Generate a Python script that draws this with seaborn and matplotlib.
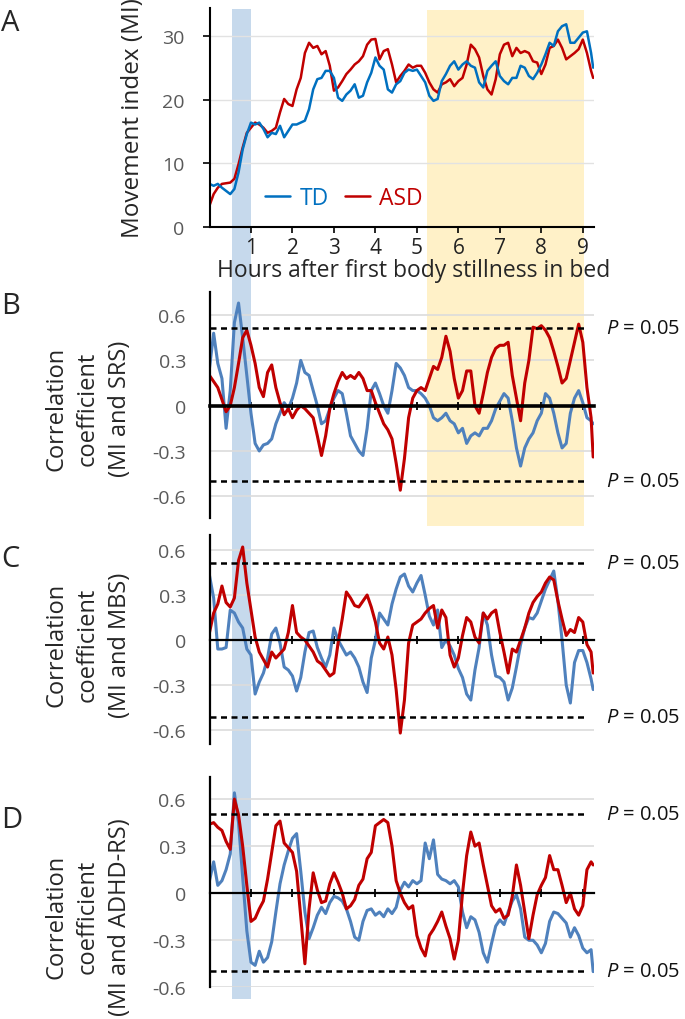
import numpy as np
import pandas as pd
import matplotlib
matplotlib.use('Agg')
import matplotlib.pyplot as plt
import seaborn as sns

sns.set_theme(style='white')
plt.rcParams['font.family'] = ['Open Sans', 'DejaVu Sans']
plt.rcParams['axes.unicode_minus'] = False
plt.rcParams['mathtext.fontset'] = 'custom'
plt.rcParams['mathtext.rm'] = 'Open Sans'
plt.rcParams['mathtext.it'] = 'Open Sans:italic'

# 数据：每 0.1 小时读一个点（最后一点 9.25 h）
hours = np.append(np.arange(93) * 0.1, 9.25)

mi_td = [6.8, 6.5, 6.8, 6.2, 5.7, 5.2, 6.0, 8.6, 12.2, 14.6,
         16.4, 16.1, 16.4, 15.4, 14.1, 14.8, 14.6, 15.9, 14.1, 15.1,
         16.1, 16.1, 16.4, 16.7, 18.5, 21.6, 23.2, 23.4, 24.5, 24.5,
         23.4, 20.3, 19.8, 20.8, 21.4, 22.4, 20.3, 20.6, 22.7, 24.2,
         26.6, 25.3, 24.7, 21.6, 21.1, 22.4, 22.9, 24.2, 24.7, 24.5,
         24.7, 23.7, 22.7, 20.6, 19.8, 20.1, 22.9, 24.0, 25.3, 26.0,
         24.7, 25.5, 26.0, 25.3, 25.0, 22.7, 21.9, 24.5, 25.3, 26.0,
         23.7, 22.9, 22.4, 23.4, 23.4, 25.3, 25.0, 23.7, 23.2, 24.2,
         25.5, 27.1, 28.9, 28.4, 30.7, 31.5, 31.8, 28.9, 28.9, 29.7,
         30.5, 30.7, 27.3, 25.0]
mi_asd = [3.4, 5.2, 6.2, 6.8, 6.9, 7.0, 7.6, 9.9, 12.5, 14.8,
          15.6, 16.4, 16.1, 15.6, 14.8, 15.1, 15.6, 18.0, 20.1, 19.3,
          19.0, 21.6, 23.4, 27.3, 28.9, 28.1, 28.4, 27.1, 27.6, 25.3,
          21.4, 21.9, 22.9, 24.0, 24.7, 25.5, 26.0, 26.8, 28.6, 29.4,
          29.5, 26.3, 27.6, 27.9, 25.5, 22.7, 23.7, 24.5, 25.5, 25.0,
          25.3, 25.3, 24.2, 22.7, 21.6, 21.1, 22.4, 22.7, 23.2, 22.1,
          22.9, 23.4, 25.5, 28.6, 27.9, 26.6, 23.7, 21.6, 20.8, 23.2,
          27.1, 28.6, 28.9, 26.8, 28.1, 27.3, 27.6, 27.3, 26.0, 25.8,
          24.0, 25.5, 28.1, 28.4, 29.4, 28.1, 26.3, 26.8, 27.3, 27.9,
          29.4, 27.3, 24.5, 23.4]

srs_td = [0.25, 0.48, 0.28, 0.18, -0.15, 0.10, 0.55, 0.68, 0.45, 0.20,
          -0.05, -0.25, -0.30, -0.26, -0.25, -0.22, -0.12, -0.05, 0.02, -0.02,
          0.05, 0.15, 0.30, 0.22, 0.20, 0.10, 0.00, -0.12, -0.10, -0.02,
          0.05, 0.10, 0.08, -0.05, -0.20, -0.25, -0.30, -0.33, -0.15, 0.10,
          0.15, 0.08, 0.00, -0.05, 0.10, 0.28, 0.25, 0.20, 0.12, 0.10,
          0.10, 0.08, 0.05, 0.00, -0.08, -0.10, -0.08, -0.05, -0.10, -0.12,
          -0.18, -0.15, -0.25, -0.20, -0.18, -0.20, -0.15, -0.15, -0.10, -0.02,
          0.03, 0.08, 0.05, -0.10, -0.28, -0.40, -0.28, -0.22, -0.18, -0.10,
          -0.05, 0.08, 0.05, -0.05, -0.18, -0.28, -0.25, -0.05, 0.05, 0.10,
          0.02, -0.08, -0.10, -0.12]
srs_asd = [0.20, 0.16, 0.12, 0.04, -0.04, 0.00, 0.12, 0.28, 0.45, 0.50,
           0.40, 0.28, 0.12, 0.06, 0.22, 0.27, 0.12, 0.02, -0.06, -0.02,
           -0.08, -0.03, 0.00, -0.02, -0.05, -0.08, -0.20, -0.33, -0.20, -0.02,
           0.08, 0.16, 0.22, 0.18, 0.20, 0.18, 0.22, 0.18, 0.10, 0.10,
           0.02, -0.05, -0.12, -0.16, -0.22, -0.38, -0.56, -0.35, -0.08, 0.05,
           0.10, 0.12, 0.10, 0.18, 0.26, 0.24, 0.32, 0.46, 0.36, 0.18,
           0.05, 0.10, 0.23, 0.23, 0.00, -0.05, 0.08, 0.22, 0.32, 0.38,
           0.40, 0.40, 0.42, 0.20, 0.05, -0.10, 0.15, 0.30, 0.52, 0.51,
           0.53, 0.50, 0.45, 0.36, 0.26, 0.15, 0.18, 0.30, 0.42, 0.54,
           0.42, 0.12, -0.08, -0.34]

mbs_td = [0.43, 0.28, -0.06, -0.06, -0.05, 0.20, 0.18, 0.12, 0.08, -0.06,
          -0.10, -0.36, -0.28, -0.22, -0.12, 0.04, 0.08, -0.02, -0.18, -0.20,
          -0.24, -0.34, -0.25, -0.08, 0.05, 0.06, -0.05, -0.12, -0.18, -0.10,
          0.08, 0.00, -0.05, -0.10, -0.08, -0.12, -0.18, -0.28, -0.35, -0.12,
          0.00, 0.18, 0.14, 0.10, 0.24, 0.34, 0.42, 0.44, 0.36, 0.32,
          0.38, 0.43, 0.30, 0.16, 0.10, 0.20, -0.05, 0.00, -0.04, -0.10,
          -0.19, -0.25, -0.36, -0.40, -0.20, -0.05, 0.18, 0.10, -0.10, -0.24,
          -0.25, -0.28, -0.40, -0.32, -0.18, -0.03, 0.08, 0.15, 0.14, 0.18,
          0.26, 0.34, 0.40, 0.46, 0.26, 0.00, -0.30, -0.42, -0.15, -0.07,
          -0.07, -0.15, -0.26, -0.33]
mbs_asd = [0.05, 0.18, 0.24, 0.36, 0.25, 0.22, 0.28, 0.53, 0.62, 0.38,
           0.20, 0.02, -0.08, -0.13, -0.18, -0.08, -0.12, -0.09, -0.06, 0.05,
           0.23, 0.05, 0.02, 0.00, -0.04, -0.08, -0.14, -0.16, -0.20, -0.24,
           -0.22, -0.02, 0.14, 0.32, 0.28, 0.23, 0.22, 0.26, 0.30, 0.22,
           0.12, -0.02, -0.06, 0.02, -0.10, -0.33, -0.62, -0.40, -0.02, 0.10,
           0.12, 0.14, 0.18, 0.21, 0.23, 0.08, 0.20, 0.15, -0.10, -0.18,
           -0.12, 0.03, 0.15, 0.12, 0.02, -0.02, 0.18, 0.14, 0.18, 0.20,
           0.05, -0.08, -0.22, -0.06, -0.08, 0.00, 0.08, 0.18, 0.25, 0.29,
           0.32, 0.38, 0.42, 0.40, 0.26, 0.14, 0.03, 0.07, 0.05, 0.15,
           0.12, -0.03, -0.08, -0.22]

adhd_td = [0.08, 0.20, 0.05, 0.08, 0.15, 0.25, 0.64, 0.45, 0.10, -0.24,
           -0.44, -0.46, -0.37, -0.44, -0.41, -0.31, -0.12, 0.06, 0.18, 0.27,
           0.35, 0.38, 0.14, -0.12, -0.29, -0.22, -0.14, -0.09, -0.13, -0.06,
           -0.02, -0.03, -0.05, -0.10, -0.18, -0.28, -0.30, -0.18, -0.11, -0.10,
           -0.14, -0.12, -0.15, -0.10, -0.13, -0.09, 0.02, 0.07, 0.04, 0.08,
           0.06, 0.08, 0.32, 0.22, 0.34, 0.12, 0.09, 0.08, 0.06, 0.08,
           0.04, -0.12, -0.22, -0.15, -0.17, -0.25, -0.38, -0.44, -0.32, -0.21,
           -0.17, -0.20, -0.12, -0.05, -0.01, -0.10, -0.28, -0.30, -0.30, -0.33,
           -0.38, -0.32, -0.18, -0.12, -0.13, -0.16, -0.19, -0.28, -0.22, -0.27,
           -0.35, -0.38, -0.36, -0.50]
adhd_asd = [0.44, 0.45, 0.42, 0.40, 0.33, 0.28, 0.60, 0.50, 0.30, 0.05,
            -0.18, -0.16, -0.10, -0.05, 0.09, 0.26, 0.43, 0.46, 0.32, 0.29,
            0.26, 0.14, -0.15, -0.45, -0.10, 0.13, 0.02, -0.06, -0.05, 0.06,
            0.13, 0.07, 0.00, -0.10, -0.08, -0.04, 0.05, 0.09, 0.22, 0.26,
            0.43, 0.45, 0.47, 0.45, 0.30, 0.08, 0.00, -0.06, -0.10, -0.08,
            -0.27, -0.35, -0.40, -0.27, -0.23, -0.18, -0.12, -0.21, -0.29, -0.42,
            -0.30, 0.00, 0.24, 0.39, 0.30, 0.32, 0.18, 0.05, -0.08, -0.12,
            -0.10, -0.16, -0.14, -0.02, 0.18, 0.05, -0.12, -0.29, -0.14, -0.01,
            0.05, 0.10, 0.24, 0.15, 0.15, 0.05, -0.06, 0.00, -0.10, -0.14,
            -0.08, 0.15, 0.20, 0.18]

corr_labels = ['Correlation\ncoefficient\n(MI and SRS)',
               'Correlation\ncoefficient\n(MI and MBS)',
               'Correlation\ncoefficient\n(MI and ADHD-RS)']
sig_levels = [(0.513, -0.499), (0.511, -0.511), (0.507, -0.493)]
corr_ticks = [-0.6, -0.3, 0, 0.3, 0.6]
corr_ticklabels = ['-0.6', '-0.3', '0', '0.3', '0.6']

TD_A, TD_C, ASD_C = '#0070C0', '#4F81BD', '#C00000'

# 版面（像素 -> 图坐标）
W_PX, H_PX = 685, 1020
fig = plt.figure(figsize=(W_PX / 100, H_PX / 100), dpi=100)
fx = lambda p: p / W_PX
fy = lambda p: 1 - p / H_PX
L, R = fx(209.5), fx(594)
XMAX = 9.27

def box(top, bottom):
    return [L, fy(bottom), R - L, (bottom - top) / H_PX]

# 背景色带（贯穿各面板）
bg = fig.add_axes([L, 0, R - L, 1])
bg.set_xlim(0, XMAX)
bg.set_ylim(0, 1)
bg.axis('off')
bg.axvspan(0.54, 1.0, ymin=fy(1000), ymax=fy(10), color='#c6d9ec', lw=0)
bg.axvspan(5.24, 9.04, ymin=fy(527), ymax=fy(11), color='#fff1c8', lw=0)

# 面板 A
axA = fig.add_axes(box(9.3, 228.3), facecolor='none')
sns.lineplot(x=hours, y=mi_asd, color=ASD_C, lw=1.8, estimator=None, ax=axA)
sns.lineplot(x=hours, y=mi_td, color=TD_A, lw=1.8, estimator=None, ax=axA)
axA.set_xlim(0, XMAX)
axA.set_ylim(0, 34.3)
axA.set_yticks([0, 10, 20, 30])
axA.set_xticks(range(1, 10))
axA.yaxis.grid(True, color='#e2e2e2', lw=1)
axA.set_axisbelow(True)
for s in ['top', 'right']:
    axA.spines[s].set_visible(False)
for s in ['left', 'bottom']:
    axA.spines[s].set_color('black')
    axA.spines[s].set_linewidth(1.5)
axA.tick_params(axis='y', left=True, length=5, width=1.2, color='black',
                labelsize=14, labelcolor='#595959', pad=13)
axA.tick_params(axis='x', bottom=True, length=4, width=1.2, color='black',
                labelsize=15, labelcolor='#222222', pad=3)
axA.set_xlabel('')
axA.set_ylabel('')
ln = axA.get_lines()
axA.legend(handles=[ln[1], ln[0]], labels=['TD', 'ASD'], ncol=2, frameon=False,
           loc='center', bbox_to_anchor=(0.35, 0.134), handlelength=1.1,
           handletextpad=0.4, columnspacing=0.7, fontsize=16.5,
           labelcolor='linecolor')
fig.text(fx(133), fy(118), 'Movement index (MI)', rotation=90,
         ha='center', va='center', fontsize=17.5)
fig.text(fx(414), fy(271), 'Hours after first body stillness in bed',
         ha='center', va='center', fontsize=16.5)

# 面板 B-D
panels = [
    (box(292.7, 519), srs_td, srs_asd, (-0.744, 0.755), 2.6, 409),
    (box(536, 745), mbs_td, mbs_asd, (-0.693, 0.70), 1.6, 645),
    (box(778.3, 988.3), adhd_td, adhd_asd, (-0.60, 0.739), 1.6, 917),
]
for i, (pos, td, asd, ylim, zlw, lab_y) in enumerate(panels):
    ax = fig.add_axes(pos, facecolor='none')
    sns.lineplot(x=hours, y=td, color=TD_C, lw=2.2, estimator=None, ax=ax)
    sns.lineplot(x=hours, y=asd, color=ASD_C, lw=2.2, estimator=None, ax=ax)
    hi, lo = sig_levels[i]
    for lvl in (hi, lo):
        ax.axhline(lvl, xmin=0, xmax=0.982, color='black', lw=1.8,
                   ls=(0, (2.4, 1.8)))
        ax.text(fx(606 - 209.5) / (R - L), lvl, '$P$ = 0.05',
                transform=ax.get_yaxis_transform(), ha='left', va='center',
                fontsize=14.5, color='#111111', clip_on=False)
    ax.set_xlim(0, XMAX)
    ax.set_ylim(*ylim)
    ax.set_yticks(corr_ticks)
    ax.set_yticklabels(corr_ticklabels)
    ax.set_xticks(range(1, 10))
    ax.yaxis.grid(True, color='#dcdcdc', lw=1.2)
    ax.set_axisbelow(True)
    ax.spines['top'].set_visible(False)
    ax.spines['right'].set_visible(False)
    ax.spines['left'].set_color('black')
    ax.spines['left'].set_linewidth(1.6)
    ax.spines['bottom'].set_position(('data', 0))
    ax.spines['bottom'].set_color('black')
    ax.spines['bottom'].set_linewidth(zlw)
    ax.tick_params(axis='x', bottom=True, direction='inout', length=6,
                   width=1.3, color='black', labelbottom=False)
    ax.tick_params(axis='y', left=False, labelsize=14, labelcolor='#595959',
                   pad=11)
    ax.set_xlabel('')
    ax.set_ylabel('')
    fig.text(fx(88), fy(lab_y), corr_labels[i], rotation=90, ha='center',
             va='center', multialignment='center', linespacing=1.42,
             fontsize=17)

for letter, yy in zip('ABCD', [23.5, 306, 559.5, 820.5]):
    fig.text(fx(1), fy(yy), letter, ha='left', va='center', fontsize=21)

fig.savefig('out.png', dpi=100)
